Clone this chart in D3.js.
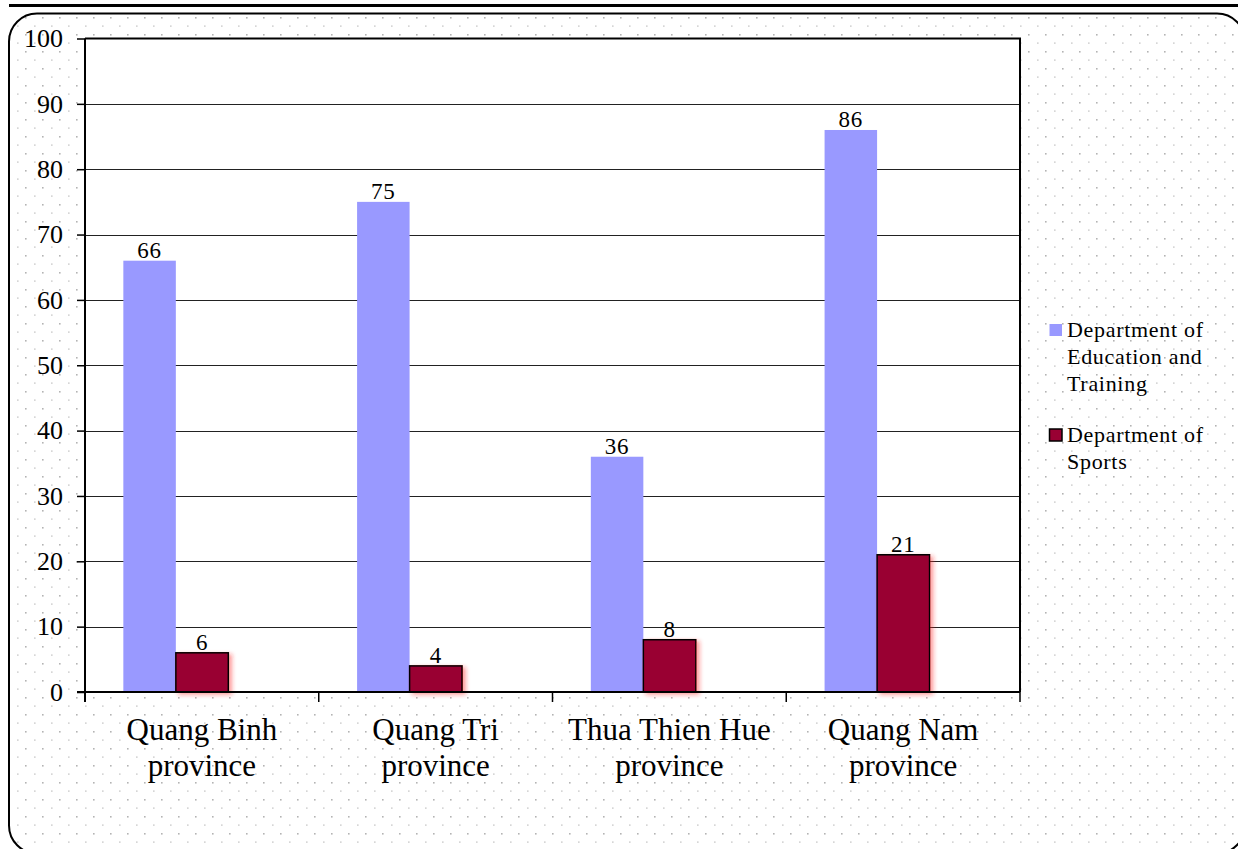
<!DOCTYPE html>
<html><head><meta charset="utf-8">
<script src="https://cdn.jsdelivr.net/npm/d3@7"></script>
<style>html,body{margin:0;padding:0;background:#fff;}svg{display:block;}</style>
</head><body>
<script>
const categories = [["Quang Binh","province"],["Quang Tri","province"],["Thua Thien Hue","province"],["Quang Nam","province"]];
const seriesNames = [["Department of","Education and","Training"],["Department of","Sports"]];
const education = [66, 75, 36, 86];
const sports = [6, 4, 8, 21];
const yTicks = [0,10,20,30,40,50,60,70,80,90,100];
const colors = ["#9999FF", "#990033"];

const W = 1238, H = 849;
const FONT = "'Liberation Serif','Times New Roman',serif";
const svg = d3.select("body").append("svg").attr("width", W).attr("height", H);
const defs = svg.append("defs");
const pat = defs.append("pattern").attr("id","dots").attr("patternUnits","userSpaceOnUse")
  .attr("x",0).attr("y",0).attr("width",17).attr("height",17);
pat.append("rect").attr("x",8).attr("y",0).attr("width",1.6).attr("height",1.6).attr("fill","#b4b4b4");
pat.append("rect").attr("x",0).attr("y",8.5).attr("width",1.6).attr("height",1.2).attr("fill","#c4c4c4");
const f = defs.append("filter").attr("id","shadow").attr("x","-20%").attr("y","-20%").attr("width","150%").attr("height","150%");
f.append("feDropShadow").attr("dx",3).attr("dy",2).attr("stdDeviation",2).attr("flood-color","#ff2020").attr("flood-opacity",0.45);

// top rule
svg.append("line").attr("x1",9).attr("x2",W).attr("y1",5.5).attr("y2",5.5).attr("stroke","#000").attr("stroke-width",3);
// outer rounded frame with dot pattern
svg.append("rect").attr("x",9).attr("y",13.5).attr("width",1236).attr("height",840).attr("rx",28).attr("ry",28)
  .attr("fill","url(#dots)").attr("stroke","#000").attr("stroke-width",2);

const L = 85, R = 1020, T = 38.5, B = 692;
const x = d3.scaleBand().domain(d3.range(categories.length)).range([L, R]).padding(0);
const y = d3.scaleLinear().domain([0,100]).range([B, T]);
const bw = x.bandwidth();
const barW = bw * 0.2246, off = bw * 0.164;

// plot area
svg.append("rect").attr("x",L).attr("y",T).attr("width",R-L).attr("height",B-T).attr("fill","#fff");
// gridlines
svg.append("g").selectAll("line").data(yTicks.filter(d=>d>0 && d<100)).join("line")
  .attr("x1",L).attr("x2",R).attr("y1",d=>Math.round(y(d))+0.5).attr("y2",d=>Math.round(y(d))+0.5)
  .attr("stroke","#222").attr("stroke-width",1);
// top & right border
svg.append("path").attr("d",`M${L},${T}H${R}V${B}`).attr("fill","none").attr("stroke","#000").attr("stroke-width",2);

// bars
const series = [education, sports];
series.forEach((vals, si) => {
  const g = svg.append("g");
  g.selectAll("rect").data(vals).join("rect")
    .attr("x",(d,i)=>x(i)+off+si*barW).attr("y",d=>y(d)).attr("width",barW).attr("height",d=>B-y(d))
    .attr("fill",colors[si])
    .attr("stroke", si===1 ? "#000" : "none").attr("stroke-width",1.5)
    .attr("filter", si===1 ? "url(#shadow)" : null);
  g.selectAll("text").data(vals).join("text")
    .attr("x",(d,i)=>x(i)+off+si*barW+barW/2).attr("y",d=>y(d)-2.5)
    .attr("text-anchor","middle").attr("font-family",FONT)
    .attr("font-size",23).attr("letter-spacing",0.8).attr("fill","#000").text(d=>d);
});

// axes
const yAxis = d3.axisLeft(y).tickValues(yTicks).tickSize(8).tickPadding(14).tickFormat(d3.format("d"));
const ya = svg.append("g").attr("transform",`translate(${L},0)`).call(yAxis);
ya.select(".domain").attr("stroke","#000").attr("stroke-width",2).attr("d",`M0,${T}V${B+10}`);
ya.selectAll(".tick line").attr("stroke","#000").attr("stroke-width",1.5);
ya.selectAll(".tick text").attr("font-family",FONT).attr("font-size",26).attr("fill","#000");

svg.append("line").attr("x1",L-8).attr("x2",R).attr("y1",B).attr("y2",B).attr("stroke","#000").attr("stroke-width",2);
const bounds = d3.range(categories.length+1).map(i => i<categories.length ? x(i) : R);
svg.append("g").selectAll("line").data(bounds.slice(1)).join("line")
  .attr("x1",d=>d).attr("x2",d=>d).attr("y1",B).attr("y2",B+10).attr("stroke","#000").attr("stroke-width",1.5);

// category labels
const cg = svg.append("g");
categories.forEach((lines, i) => {
  const t = cg.append("text").attr("text-anchor","middle")
    .attr("font-family",FONT).attr("font-size",31).attr("fill","#000");
  lines.forEach((ln, j) => t.append("tspan").attr("x", x(i)+bw/2).attr("y", 740 + j*36).text(ln));
});

// legend
const legY = [324, 429];
const lg = svg.append("g");
seriesNames.forEach((lines, si) => {
  lg.append("rect").attr("x",1049.5).attr("y",legY[si]).attr("width",12.5).attr("height",12)
    .attr("fill",colors[si]).attr("stroke", si===1?"#000":"none").attr("stroke-width",1.5);
  const t = lg.append("text").attr("font-family",FONT)
    .attr("font-size",22).attr("letter-spacing",0.7).attr("fill","#000");
  lines.forEach((ln, j) => t.append("tspan").attr("x",1067).attr("y",legY[si]+13+j*27).text(ln));
});
</script>
</body></html>
